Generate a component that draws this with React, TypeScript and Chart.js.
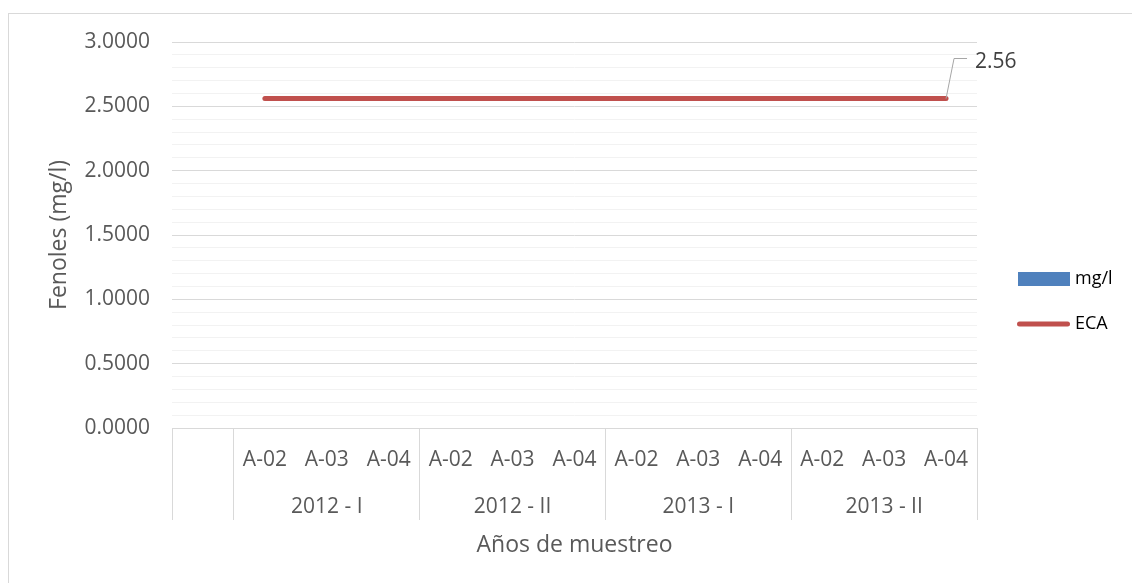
import { useEffect, useRef } from 'react';
import { Chart, registerables } from 'chart.js';

Chart.register(...registerables);

// Sampling points, grouped by campaign (first slot is an empty category)
const sites = ['', 'A-02', 'A-03', 'A-04', 'A-02', 'A-03', 'A-04', 'A-02', 'A-03', 'A-04', 'A-02', 'A-03', 'A-04'];
const periods = ['', '', '2012 - I', '', '', '2012 - II', '', '', '2013 - I', '', '', '2013 - II', ''];
// Category indices where each campaign block begins
const periodStarts = [0, 1, 4, 7, 10];

// Measured phenols (mg/l) and the ECA limit
const fenolesMgL = [null, 0, 0, 0, 0, 0, 0, 0, 0, 0, 0, 0, 0];
const ecaLimit = [null, 2.56, 2.56, 2.56, 2.56, 2.56, 2.56, 2.56, 2.56, 2.56, 2.56, 2.56, 2.56];

// Value axis
const yMin = 0;
const yMax = 3;
const yMajorStep = 0.5;
const yMinorStep = 0.1;

const FONT = '"Open Sans", "DejaVu Sans", sans-serif';
const TEXT = '#595959';
const BLUE = '#4f81bd';
const RED = '#c0504d';

const isMajor = (v: number) => Math.abs(v / yMajorStep - Math.round(v / yMajorStep)) < 1e-6;

function legendSwatch(kind: 'rect' | 'line'): HTMLCanvasElement {
  const c = document.createElement('canvas');
  c.width = 70;
  c.height = kind === 'rect' ? 14 : 6;
  const g = c.getContext('2d')!;
  if (kind === 'rect') {
    g.fillStyle = BLUE;
    g.fillRect(18, 0, 52, 14);
  } else {
    g.strokeStyle = RED;
    g.lineWidth = 5;
    g.lineCap = 'round';
    g.beginPath();
    g.moveTo(19.5, 3);
    g.lineTo(67.5, 3);
    g.stroke();
  }
  return c;
}

// Callout with leader line for the last ECA value
const ecaCallout = {
  id: 'ecaCallout',
  afterDatasetsDraw(chart: any) {
    const meta = chart.getDatasetMeta(1);
    let idx = -1;
    ecaLimit.forEach((v, i) => { if (v !== null) idx = i; });
    if (idx < 0) return;
    const pt = meta.data[idx];
    const { ctx } = chart;
    const yl = Math.round(pt.y - 41) + 0.5;
    ctx.save();
    ctx.strokeStyle = '#a6a6a6';
    ctx.lineWidth = 1;
    ctx.beginPath();
    ctx.moveTo(pt.x, pt.y);
    ctx.lineTo(pt.x + 8, yl);
    ctx.lineTo(pt.x + 21, yl);
    ctx.stroke();
    ctx.fillStyle = '#404040';
    ctx.font = `21px ${FONT}`;
    ctx.textBaseline = 'middle';
    ctx.textAlign = 'left';
    ctx.fillText(String(ecaLimit[idx]), pt.x + 29, pt.y - 37);
    ctx.restore();
  },
};

export default function App() {
  const ref = useRef<HTMLCanvasElement>(null);

  useEffect(() => {
    if (!ref.current) return;
    const rectImg = legendSwatch('rect');
    const lineImg = legendSwatch('line');
    let alive = true;

    const chart = new Chart(ref.current, {
      type: 'bar',
      data: {
        labels: sites.map((s, i) => [s, periods[i]]),
        datasets: [
          {
            type: 'bar',
            label: 'mg/l',
            data: fenolesMgL,
            backgroundColor: BLUE,
            borderWidth: 0,
            order: 2,
          },
          {
            type: 'line',
            label: 'ECA',
            data: ecaLimit,
            borderColor: RED,
            backgroundColor: RED,
            borderWidth: 5,
            borderCapStyle: 'round',
            pointRadius: 0,
            pointHoverRadius: 0,
            spanGaps: false,
            order: 1,
          },
        ],
      } as any,
      options: {
        responsive: false,
        animation: false,
        events: [],
        devicePixelRatio: 1,
        layout: { padding: { left: 0, top: 42, right: 15, bottom: 22 } },
        plugins: {
          tooltip: { enabled: false },
          legend: {
            position: 'right',
            align: 'center',
            maxWidth: 140,
            labels: {
              usePointStyle: true,
              pointStyleWidth: 62,
              padding: 27,
              color: TEXT,
              font: { family: FONT, size: 18 },
              generateLabels: () => [
                { text: 'mg/l', pointStyle: rectImg, fillStyle: BLUE, strokeStyle: BLUE, lineWidth: 0, hidden: false, datasetIndex: 0 },
                { text: 'ECA', pointStyle: lineImg, fillStyle: RED, strokeStyle: RED, lineWidth: 0, hidden: false, datasetIndex: 1 },
              ] as any,
            },
          },
        },
        scales: {
          x: {
            type: 'category',
            offset: true,
            afterFit: (s: any) => { s.height = 133; },
            grid: {
              display: true,
              drawOnChartArea: false,
              offset: true,
              drawTicks: true,
              tickLength: 92,
              lineWidth: 1,
              color: (c: any) => (c.index === undefined || periodStarts.includes(c.index) ? '#d9d9d9' : 'rgba(0,0,0,0)'),
            },
            border: { display: true, color: '#d9d9d9', width: 1 },
            ticks: {
              autoSkip: false,
              maxRotation: 0,
              minRotation: 0,
              padding: -83.5,
              color: TEXT,
              font: { family: FONT, size: 21, lineHeight: '47px' } as any,
            },
            title: {
              display: true,
              text: 'Años de muestreo',
              color: TEXT,
              font: { family: FONT, size: 23 },
              padding: { top: 0, bottom: 2 },
            },
          },
          y: {
            type: 'linear',
            min: yMin,
            max: yMax,
            afterFit: (s: any) => { s.width = 172; },
            grid: {
              drawTicks: false,
              lineWidth: 1,
              color: (c: any) => (c.tick && isMajor(c.tick.value) ? '#d9d9d9' : '#f2f2f2'),
            },
            border: { display: false },
            ticks: {
              stepSize: yMinorStep,
              autoSkip: false,
              padding: 22,
              color: TEXT,
              font: { family: FONT, size: 21 },
              callback: (v: any) => (isMajor(Number(v)) ? Number(v).toFixed(4) : ''),
            },
            title: {
              display: true,
              text: 'Fenoles (mg/l)',
              color: TEXT,
              font: { family: FONT, size: 23 },
              padding: { top: 46, bottom: 0 },
            },
          },
        },
      } as any,
      plugins: [ecaCallout],
    });

    (document as any).fonts?.ready?.then(() => { if (alive) chart.update(); });

    return () => {
      alive = false;
      chart.destroy();
    };
  }, []);

  return (
    <div style={{ position: 'fixed', left: 0, top: 0, width: 1132, height: 583, overflow: 'hidden', background: '#fff' }}>
      <div
        style={{
          position: 'absolute',
          left: 8,
          top: 13,
          width: 1200,
          height: 700,
          border: '1px solid #d9d9d9',
          boxSizing: 'border-box',
        }}
      />
      <canvas
        ref={ref}
        width={1132}
        height={583}
        style={{ position: 'absolute', left: 0, top: 0, width: 1132, height: 583 }}
      />
    </div>
  );
}
